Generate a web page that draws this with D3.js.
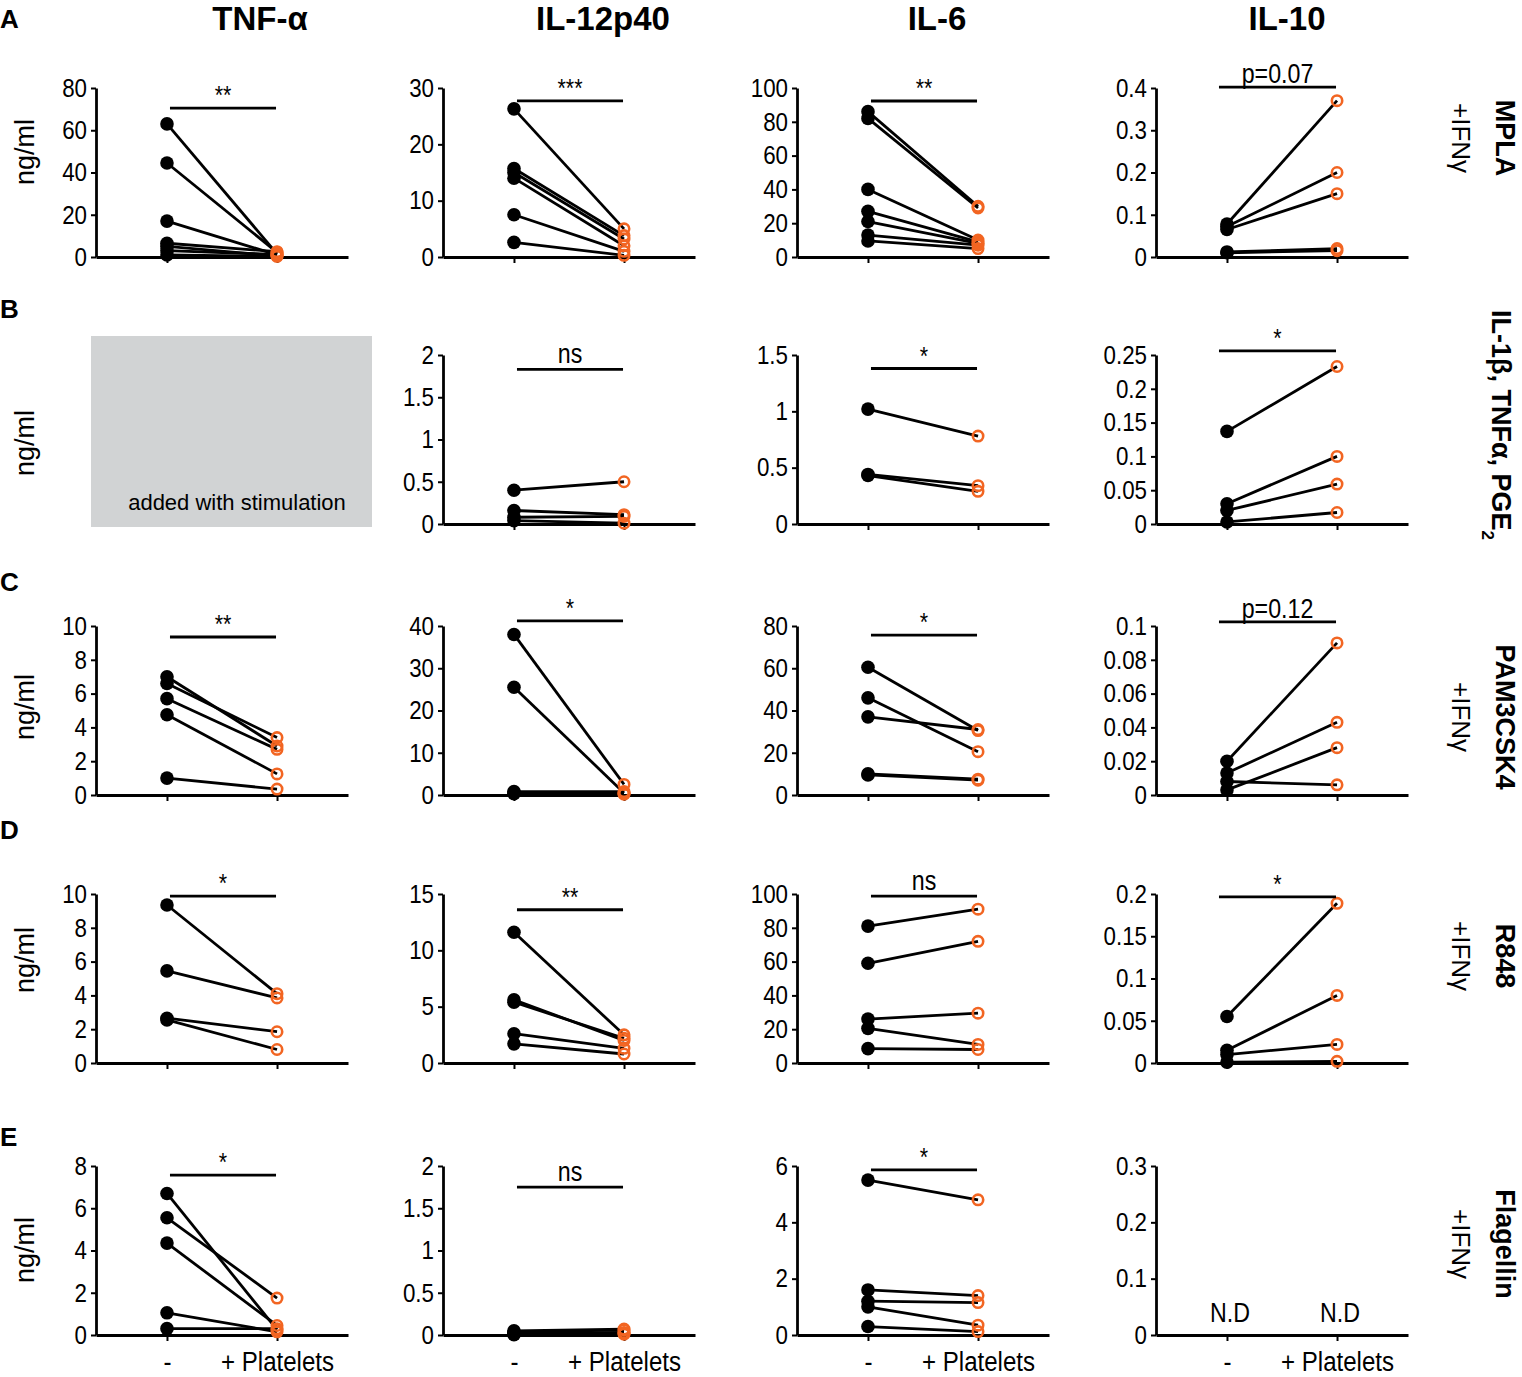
<!DOCTYPE html>
<html><head><meta charset="utf-8">
<script src="https://cdn.jsdelivr.net/npm/d3@7"></script>
<style>
body{margin:0;background:#fff;}
svg{display:block;}
</style></head><body>
<svg id="chart" width="1522" height="1377"></svg>
<script>
// ---------------- DATA ----------------
const cytokines = ["TNF-α","IL-12p40","IL-6","IL-10"];
const rowLetters = ["A","B","C","D","E"];
const stimuli = ["MPLA","IL-1β, TNFα, PGE","PAM3CSK4","R848","Flagellin"];
const costim = ["+IFNγ","","+IFNγ","+IFNγ","+IFNγ"];
const conditions = ["-","+ Platelets"];

// Row A: MPLA + IFNγ
const ticksA = [[0,20,40,60,80],[0,10,20,30],[0,20,40,60,80,100],[0,0.1,0.2,0.3,0.4]];
const ctrlA = [[63,44.5,17,6.5,5,3,1],[26.3,15.7,15,14,7.5,2.6],[86,82,40,27,21,13,9.5],[0.078,0.072,0.065,0.012,0.01]];
const pltA  = [[1.5,2.2,1,2.5,0.5,1.2,0.3],[5,3.8,3.2,2,1,0.3],[30,29,10,9,8,7,5],[0.37,0.2,0.15,0.02,0.015]];
const sigA = ["**","***","**","p=0.07"];
const sigLevelA = [70.5,27.7,92.3,0.402];

// Row B: IL-1β, TNFα, PGE2 (TNF-α added with stimulation)
const ticksB = [null,[0,0.5,1,1.5,2],[0,0.5,1,1.5],[0,0.05,0.1,0.15,0.2,0.25]];
const ctrlB = [null,[0.4,0.16,0.08,0.04],[1.02,0.44,0.43],[0.137,0.03,0.02,0.003]];
const pltB  = [null,[0.5,0.11,0.09,0.01],[0.78,0.34,0.29],[0.233,0.1,0.059,0.017]];
const sigB = [null,"ns","*","*"];
const sigLevelB = [null,1.83,1.38,0.256];

// Row C: PAM3CSK4 + IFNγ
const ticksC = [[0,2,4,6,8,10],[0,10,20,30,40],[0,20,40,60,80],[0,0.02,0.04,0.06,0.08,0.1]];
const ctrlC = [[7.0,6.6,5.7,4.75,1.0],[38,25.5,0.8,0.5,0.3],[60.5,46,37,10,9.5],[0.02,0.013,0.008,0.003]];
const pltC  = [[2.9,3.4,2.7,1.25,0.35],[2.5,0.5,0.8,0.3,0.2],[30.5,20.5,31,7.5,7],[0.09,0.043,0.006,0.028]];
const sigC = ["**","*","*","p=0.12"];
const sigLevelC = [9.35,41.2,75.7,0.1024];

// Row D: R848 + IFNγ
const ticksD = [[0,2,4,6,8,10],[0,5,10,15],[0,20,40,60,80,100],[0,0.05,0.1,0.15,0.2]];
const ctrlD = [[9.35,5.45,2.65,2.55],[11.6,5.6,5.4,2.6,1.7],[81,59,26,20.5,8.5],[0.055,0.015,0.01,0.001]];
const pltD  = [[4.1,3.85,1.85,0.8],[2.5,2.0,2.2,1.3,0.8],[91,72,29.5,11,8],[0.189,0.08,0.022,0.002]];
const sigD = ["*","**","ns","*"];
const sigLevelD = [9.88,13.6,98.8,0.1965];

// Row E: Flagellin + IFNγ
const ticksE = [[0,2,4,6,8],[0,0.5,1,1.5,2],[0,2,4,6],[0,0.1,0.2,0.3]];
const ctrlE = [[6.7,5.55,4.35,1.05,0.3],[0.05,0.03,0.02,0.01,0.005],[5.5,1.6,1.2,1.0,0.3],null];
const pltE  = [[0.25,1.75,0.45,0.15,0.3],[0.07,0.06,0.03,0.02,0.01],[4.8,1.4,1.15,0.35,0.12],null];
const sigE = ["*","ns","*",null];
const sigLevelE = [7.57,1.75,5.86,null];
const ndLabel = "N.D";

// ---------------- LAYOUT ----------------
const rows = [
  {ticks:ticksA, ctrl:ctrlA, plt:pltA, sig:sigA, lvl:sigLevelA},
  {ticks:ticksB, ctrl:ctrlB, plt:pltB, sig:sigB, lvl:sigLevelB},
  {ticks:ticksC, ctrl:ctrlC, plt:pltC, sig:sigC, lvl:sigLevelC},
  {ticks:ticksD, ctrl:ctrlD, plt:pltD, sig:sigD, lvl:sigLevelD},
  {ticks:ticksE, ctrl:ctrlE, plt:pltE, sig:sigE, lvl:sigLevelE}
];
const colX = [96,443,797,1156];
const panelW = 252;
const rowBottom = [257,524,795,1063,1335];
const plotH = 169;
const titleX = [260,603,937,1287];
const letterY = [28,318,591,839,1146];
const ylabY = [152,443,707,960,1250];
const sideY = [138,425,717,956,1244];
const ORANGE = "#f26522";
const SX = 0.86; // horizontal condensing for the narrow lettering
const sans = "'Liberation Sans',Arial,Helvetica,sans-serif";

const svg = d3.select("#chart");

function narrowText(parent, x, y, str, size, anchor) {
  return parent.append("text")
    .attr("transform",`translate(${x},${y}) scale(${SX},1)`)
    .attr("text-anchor",anchor||"middle").attr("font-family",sans)
    .attr("font-size",size).attr("fill","#000").text(str);
}

// column titles
svg.selectAll("text.title").data(cytokines).join("text")
  .attr("x",(d,i)=>titleX[i]).attr("y",30)
  .attr("text-anchor","middle").attr("font-family",sans).attr("font-weight","bold")
  .attr("font-size",33).text(d=>d);

// row letters
svg.selectAll("text.letter").data(rowLetters).join("text")
  .attr("x",0).attr("y",(d,i)=>letterY[i])
  .attr("font-family",sans).attr("font-weight","bold").attr("font-size",26).text(d=>d);

// y labels
rowLetters.forEach((l,i)=>{
  svg.append("text").attr("transform",`translate(34,${ylabY[i]}) rotate(-90)`)
    .attr("text-anchor","middle").attr("font-family",sans).attr("font-size",27).text("ng/ml");
});

// side labels
stimuli.forEach((s,i)=>{
  const t = svg.append("text").attr("transform",`translate(${i===1?1492:1496},${sideY[i]}) rotate(90)`)
    .attr("text-anchor","middle").attr("font-family",sans).attr("font-weight","bold").attr("font-size",27);
  t.append("tspan").text(s);
  if (i===1) t.append("tspan").attr("baseline-shift","sub").attr("font-size",17).text("2");
  if (costim[i]) {
    svg.append("text").attr("transform",`translate(1452,${sideY[i]}) rotate(90)`)
      .attr("text-anchor","middle").attr("font-family",sans).attr("font-size",26).text(costim[i]);
  }
});

rows.forEach((r, ri)=>{
  for (let ci=0; ci<4; ci++){
    const x0 = colX[ci], yb = rowBottom[ri];
    const ticks = r.ticks[ci];
    if (!ticks) {
      svg.append("rect").attr("x",91).attr("y",336).attr("width",281).attr("height",191).attr("fill","#d1d3d4");
      svg.append("text").attr("x",237).attr("y",510).attr("text-anchor","middle")
        .attr("font-family",sans).attr("font-size",22).text("added with stimulation");
      continue;
    }
    const y = d3.scaleLinear().domain([0, d3.max(ticks)]).range([yb, yb-plotH]);
    const x = d3.scalePoint().domain(conditions).range([x0, x0+panelW]).padding(0.645);
    const g = svg.append("g");

    const ya = g.append("g").attr("transform",`translate(${x0},0)`)
      .call(d3.axisLeft(y).tickValues(ticks).tickFormat(d3.format("~g")).tickSize(5).tickSizeOuter(0).tickPadding(4));
    const xa = g.append("g").attr("transform",`translate(0,${yb})`)
      .call(d3.axisBottom(x).tickSize(6).tickSizeOuter(0).tickPadding(10).tickFormat(ri===4 ? (d=>d) : (()=>"")));
    [ya,xa].forEach(a=>{
      a.selectAll("path.domain").attr("stroke","#000").attr("stroke-width",2.8);
      a.selectAll(".tick line").attr("stroke","#000").attr("stroke-width",2);
      a.selectAll(".tick text").attr("fill","#000").attr("font-family",sans)
        .attr("font-size",a===xa ? 28 : 26)
        .attr("x",function(){ return (+this.getAttribute("x")||0)/SX; })
        .attr("transform",`scale(${SX},1)`);
    });

    const ctrl = r.ctrl[ci], plt = r.plt[ci];
    if (ctrl) {
      const pairs = ctrl.map((v,i)=>[v, plt[i]]);
      g.selectAll("line.pair").data(pairs).join("line").attr("class","pair")
        .attr("x1",x(conditions[0])).attr("x2",x(conditions[1]))
        .attr("y1",d=>y(d[0])).attr("y2",d=>y(d[1]))
        .attr("stroke","#000").attr("stroke-width",2.8);
      g.selectAll("circle.ctrl").data(ctrl).join("circle").attr("class","ctrl")
        .attr("cx",x(conditions[0])).attr("cy",d=>y(d)).attr("r",6.8).attr("fill","#000");
      g.selectAll("circle.plt").data(plt).join("circle").attr("class","plt")
        .attr("cx",x(conditions[1])).attr("cy",d=>y(d)).attr("r",5.2)
        .attr("fill","none").attr("stroke",ORANGE).attr("stroke-width",2.6);
    } else {
      conditions.forEach(c=>narrowText(g, x(c)+3, yb-13, ndLabel, 27));
    }

    const sig = r.sig[ci];
    if (sig) {
      const isP = sig.startsWith("p");
      const isNs = sig==="ns";
      const bx1 = x(conditions[0]) + (ci===3 ? -8 : 3);
      const bx2 = x(conditions[1]) - 1;
      const by = y(r.lvl[ci]);
      g.append("line").attr("x1",bx1).attr("x2",bx2).attr("y1",by).attr("y2",by)
        .attr("stroke","#000").attr("stroke-width",2.8);
      narrowText(g, (bx1+bx2)/2, by-(isP?4:(isNs?6:4)), sig, isNs||isP ? 27 : 25);
    }
  }
});
</script>
</body></html>
